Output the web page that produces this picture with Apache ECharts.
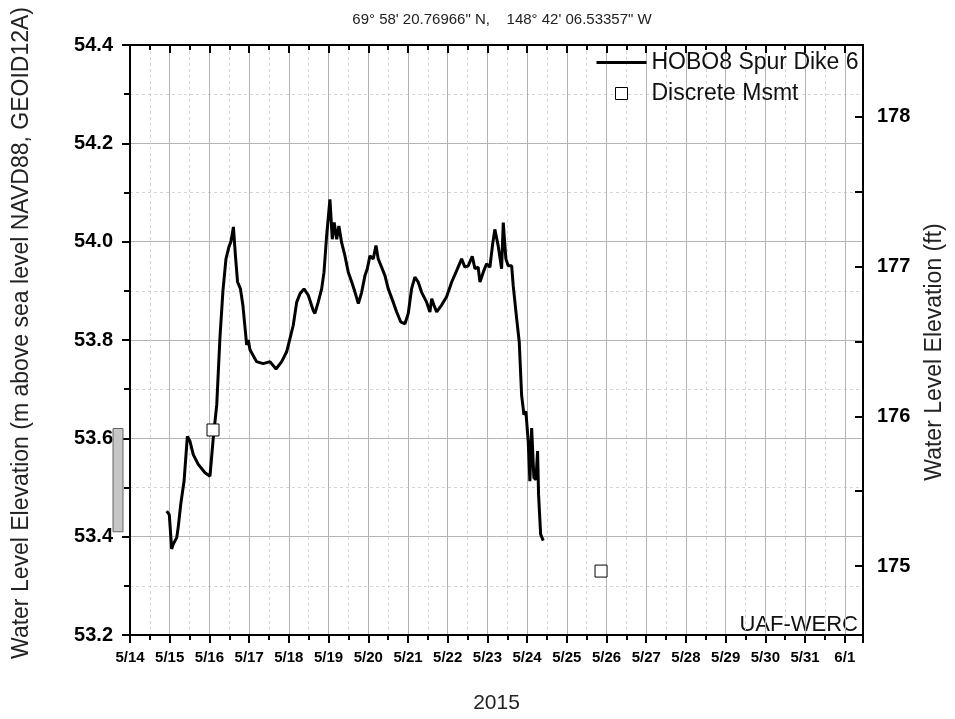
<!DOCTYPE html>
<html>
<head>
<meta charset="utf-8">
<title>HOBO8 Spur Dike 6 water level</title>
<script src="https://cdn.jsdelivr.net/npm/echarts@6/dist/echarts.min.js"></script>
<style>
  html, body { margin: 0; padding: 0; background: #fff; }
  #chart { width: 955px; height: 719px; }
</style>
</head>
<body>
<div id="chart"></div>
<script>
// Logger record, 2015 (UTC), water level in metres NAVD88 / GEOID12A
const loggerTimes = [
  '05-14 22:10','05-14 23:45','05-15 01:10','05-15 02:10','05-15 04:15','05-15 05:10','05-15 06:40','05-15 08:40','05-15 10:40','05-15 12:15',
  '05-15 14:15','05-15 17:15','05-15 21:20','05-16 00:20','05-16 02:20','05-16 04:25','05-16 06:20','05-16 08:10','05-16 10:00','05-16 11:50',
  '05-16 13:00','05-16 14:30','05-16 15:45','05-16 17:00','05-16 18:45','05-16 20:15','05-16 22:30','05-16 23:30','05-17 00:30','05-17 04:30',
  '05-17 08:30','05-17 12:35','05-17 16:15','05-17 19:40','05-17 22:40','05-18 00:40','05-18 02:40','05-18 04:45','05-18 06:45','05-18 09:10',
  '05-18 11:45','05-18 14:45','05-18 15:45','05-18 17:45','05-18 19:50','05-18 21:15','05-18 22:50','05-19 00:50','05-19 02:15','05-19 03:25',
  '05-19 04:55','05-19 06:15','05-19 07:55','05-19 09:55','05-19 11:55','05-19 14:00','05-19 16:00','05-19 18:00','05-19 20:00','05-19 22:00',
  '05-19 23:25','05-20 01:00','05-20 03:00','05-20 04:40','05-20 06:00','05-20 08:05','05-20 10:05','05-20 12:05','05-20 15:05','05-20 17:10',
  '05-20 19:35','05-20 22:10','05-21 00:10','05-21 02:10','05-21 04:10','05-21 06:10','05-21 08:15','05-21 11:15','05-21 13:15','05-21 14:20',
  '05-21 15:40','05-21 17:20','05-21 20:20','05-21 23:20','05-22 02:25','05-22 05:25','05-22 08:25','05-22 10:25','05-22 12:25','05-22 14:50',
  '05-22 16:30','05-22 18:25','05-22 19:30','05-22 21:30','05-22 23:30','05-23 01:30','05-23 03:10','05-23 04:30','05-23 06:30','05-23 08:35',
  '05-23 09:35','05-23 11:10','05-23 12:35','05-23 14:40','05-23 15:35','05-23 17:40','05-23 19:15','05-23 20:40','05-23 22:05','05-23 23:15',
  '05-24 00:40','05-24 01:40','05-24 02:45','05-24 04:05','05-24 05:20','05-24 06:20','05-24 06:55','05-24 08:10','05-24 09:45'
];
const loggerLevels = [
  53.452,53.445,53.375,53.385,53.398,53.42,53.466,53.513,53.604,53.594,
  53.567,53.547,53.53,53.523,53.601,53.668,53.803,53.90,53.965,53.99,
  54.00,54.03,53.97,53.918,53.904,53.87,53.79,53.80,53.78,53.756,
  53.752,53.756,53.741,53.756,53.776,53.803,53.83,53.877,53.894,53.904,
  53.891,53.86,53.854,53.877,53.904,53.938,54.012,54.086,54.005,54.039,
  54.005,54.032,53.998,53.971,53.938,53.918,53.897,53.874,53.897,53.931,
  53.945,53.971,53.965,53.992,53.965,53.948,53.931,53.904,53.877,53.857,
  53.837,53.833,53.854,53.904,53.928,53.918,53.897,53.877,53.857,53.884,
  53.871,53.857,53.871,53.888,53.918,53.941,53.965,53.948,53.951,53.97,
  53.945,53.948,53.918,53.938,53.955,53.948,53.995,54.025,53.992,53.945,
  54.039,53.965,53.951,53.951,53.911,53.844,53.796,53.688,53.648,53.655,
  53.594,53.513,53.621,53.52,53.516,53.574,53.486,53.405,53.392
];

// Discrete survey measurements
const msmtTimes = ['05-16 02:10', '05-25 20:40'];
const msmtLevels = [53.617, 53.33];

// Gauge range bar drawn beside the left axis (top, bottom in metres)
const gaugeRange = [53.62, 53.41];

// Axis extents
const X_START = '05-14 00:00';
const X_END = '06-01 11:00';
const Y_MIN_M = 53.2;
const Y_MAX_M = 54.4;
const M_TO_FT = 3.28084;

const FONT = "'Liberation Sans', Arial, sans-serif";
const DAY = 86400000;

function toUtc(s) {
  return Date.UTC(2015, +s.slice(0, 2) - 1, +s.slice(3, 5), +s.slice(6, 8), +s.slice(9, 11));
}

const xMin = toUtc(X_START);
const xMax = toUtc(X_END);

const loggerData = loggerTimes.map((t, i) => [toUtc(t), loggerLevels[i]]);
const msmtData = msmtTimes.map((t, i) => [toUtc(t), msmtLevels[i]]);

const dayLabel = v => {
  if (v % DAY !== 0) return '';
  const d = new Date(v);
  return (d.getUTCMonth() + 1) + '/' + d.getUTCDate();
};

const axisLineStyle = { color: '#000', width: 2 };
const tickStyle = { color: '#000', width: 2 };

const chart = echarts.init(document.getElementById('chart'), null, { renderer: 'canvas' });

chart.setOption({
  animation: false,
  backgroundColor: '#fff',
  textStyle: { fontFamily: FONT },
  title: {
    text: '69° 58\' 20.76966" N,    148° 42\' 06.53357" W',
    left: 497,
    top: 7,
    textAlign: 'center',
    textStyle: { fontSize: 15, fontWeight: 'normal', color: '#222', fontFamily: FONT }
  },
  grid: { left: 130, right: 92, top: 45, bottom: 81, containLabel: false },
  legend: {
    orient: 'vertical',
    left: 590,
    top: 46,
    itemWidth: 50,
    itemHeight: 12,
    itemGap: 8,
    symbolKeepAspect: true,
    data: [
      { name: 'HOBO8 Spur Dike 6', itemStyle: { opacity: 0 }, lineStyle: { width: 3, color: '#000' } },
      { name: 'Discrete Msmt', icon: 'path://M0,0H10V10H0Z', itemStyle: { color: '#fff', borderColor: '#000', borderWidth: 1 } }
    ],
    textStyle: { fontSize: 23, color: '#111', fontFamily: FONT }
  },
  xAxis: [
    {
      type: 'value',
      min: xMin,
      max: xMax,
      interval: DAY,
      position: 'bottom',
      name: '2015',
      nameLocation: 'middle',
      nameGap: 58,
      nameTextStyle: { fontSize: 21, color: '#222', fontFamily: FONT },
      axisLine: { show: true, onZero: false, lineStyle: axisLineStyle },
      axisTick: { show: true, inside: false, length: 8, lineStyle: tickStyle },
      minorTick: { show: true, splitNumber: 2, length: 5, lineStyle: tickStyle },
      axisLabel: {
        formatter: dayLabel,
        fontSize: 15,
        fontWeight: 'bold',
        color: '#000',
        margin: 15,
        fontFamily: FONT
      },
      splitLine: { show: true, lineStyle: { color: '#b4b4b4', width: 1 } },
      minorSplitLine: { show: true, lineStyle: { color: '#d6d6d6', width: 1, type: [3, 3] } }
    },
    {
      type: 'value',
      min: xMin,
      max: xMax,
      interval: DAY,
      position: 'top',
      axisLine: { show: true, onZero: false, lineStyle: axisLineStyle },
      axisTick: { show: true, inside: true, length: 8, lineStyle: tickStyle },
      minorTick: { show: true, splitNumber: 2, length: 5, lineStyle: tickStyle },
      axisLabel: { show: false },
      splitLine: { show: false }
    }
  ],
  yAxis: [
    {
      type: 'value',
      min: Y_MIN_M,
      max: Y_MAX_M,
      interval: 0.2,
      position: 'left',
      name: 'Water Level Elevation (m above sea level NAVD88, GEOID12A)',
      nameLocation: 'middle',
      nameGap: 97,
      nameTextStyle: { fontSize: 23, color: '#222', fontFamily: FONT, padding: [0, 0, 0, 14] },
      axisLine: { show: true, onZero: false, lineStyle: axisLineStyle },
      axisTick: { show: true, inside: false, length: 8, lineStyle: tickStyle },
      minorTick: { show: true, splitNumber: 2, length: 6, lineStyle: tickStyle },
      axisLabel: {
        formatter: v => v.toFixed(1),
        fontSize: 20,
        fontWeight: 'bold',
        color: '#000',
        margin: 17,
        fontFamily: FONT
      },
      splitLine: { show: true, lineStyle: { color: '#b4b4b4', width: 1 } },
      minorSplitLine: { show: true, lineStyle: { color: '#d6d6d6', width: 1, type: [3, 3] } }
    },
    {
      type: 'value',
      min: Y_MIN_M * M_TO_FT,
      max: Y_MAX_M * M_TO_FT,
      splitNumber: 4,
      position: 'right',
      name: 'Water Level Elevation (ft)',
      nameLocation: 'middle',
      nameGap: 60,
      nameRotate: 90,
      nameTextStyle: { fontSize: 23, color: '#222', fontFamily: FONT, padding: [0, 24, 0, 0] },
      axisLine: { show: true, onZero: false, lineStyle: axisLineStyle },
      axisTick: { show: true, inside: true, length: 8, lineStyle: tickStyle },
      minorTick: { show: true, splitNumber: 2, length: 8, lineStyle: tickStyle },
      axisLabel: {
        showMinLabel: false,
        showMaxLabel: false,
        formatter: v => String(Math.round(v)),
        fontSize: 20,
        fontWeight: 'bold',
        color: '#000',
        margin: 14,
        fontFamily: FONT
      },
      splitLine: { show: false }
    }
  ],
  graphic: [
    {
      type: 'text',
      right: 97,
      bottom: 83,
      style: { text: 'UAF-WERC', fontSize: 22, fill: '#111', fontFamily: FONT }
    }
  ],
  series: [
    {
      name: 'HOBO8 Spur Dike 6',
      type: 'line',
      xAxisIndex: 0,
      yAxisIndex: 0,
      data: loggerData,
      symbol: 'none',
      lineStyle: { color: '#000', width: 3 },
      itemStyle: { color: '#000' },
      z: 5
    },
    {
      name: 'Discrete Msmt',
      type: 'scatter',
      xAxisIndex: 0,
      yAxisIndex: 0,
      data: msmtData,
      symbol: 'rect',
      symbolSize: 12,
      itemStyle: { color: '#fff', borderColor: '#000', borderWidth: 1, opacity: 1 },
      z: 6
    },
    {
      name: 'gauge range',
      type: 'custom',
      xAxisIndex: 0,
      yAxisIndex: 0,
      clip: false,
      silent: true,
      data: [gaugeRange],
      renderItem: (params, api) => {
        const top = api.coord([xMin, api.value(0)]);
        const bottom = api.coord([xMin, api.value(1)]);
        return {
          type: 'rect',
          shape: { x: top[0] - 17, y: top[1], width: 10, height: bottom[1] - top[1] },
          style: { fill: '#c6c6c6', stroke: '#666', lineWidth: 1 }
        };
      },
      z: 4
    }
  ]
});
</script>
</body>
</html>
